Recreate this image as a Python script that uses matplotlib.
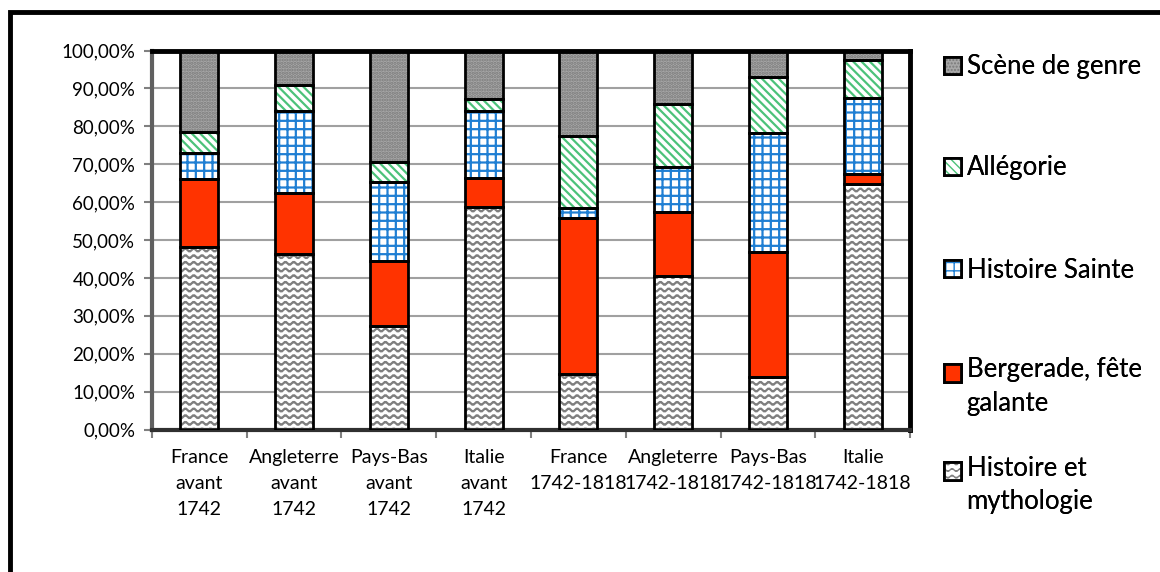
import warnings
import numpy as np
import matplotlib
matplotlib.use('Agg')
import matplotlib.pyplot as plt
import matplotlib.hatch as mhatch
from matplotlib.path import Path
from matplotlib.patches import Rectangle
from matplotlib.legend_handler import HandlerTuple
from matplotlib.ticker import FuncFormatter, MultipleLocator

warnings.filterwarnings('ignore')

# ------------------------------------------
# Data (shares in %)
# ------------------------------------------
categories = ['France\navant\n1742', 'Angleterre\navant\n1742', 'Pays-Bas\navant\n1742',
              'Italie\navant\n1742', 'France\n1742-1818', 'Angleterre\n1742-1818',
              'Pays-Bas\n1742-1818', 'Italie\n1742-1818']
histoire_mythologie = [48.1, 46.4, 27.3, 58.6, 14.6, 40.4, 13.8, 64.8]
bergerade = [17.9, 15.9, 17.2, 7.9, 41.3, 17.1, 33.0, 2.6]
histoire_sainte = [7.1, 21.7, 20.8, 17.5, 2.5, 11.7, 31.4, 20.0]
allegorie = [5.3, 6.9, 5.2, 3.1, 19.1, 16.8, 14.8, 10.0]
scene_genre = [21.6, 9.1, 29.5, 12.9, 22.5, 14.0, 7.0, 2.6]


# wavy hatch (Excel "wave" pattern), triggered by 'z'
class WaveHatch(mhatch.HatchPatternBase):
    def __init__(self, hatch, density):
        self.num_lines = int(hatch.count('z') * density * 1.25)
        self.n_waves = 12
        self.per_wave = 6
        self.num_vertices = self.num_lines * (self.n_waves * self.per_wave + 1)

    def set_vertices_and_codes(self, vertices, codes):
        npts = self.n_waves * self.per_wave + 1
        xs = np.linspace(0, 1, npts)
        amp = 0.22 / max(self.num_lines, 1)
        offs = amp * np.sin(2 * np.pi * self.n_waves * xs)
        for i in range(self.num_lines):
            y0 = (i + 0.5) / self.num_lines
            sl = slice(i * npts, (i + 1) * npts)
            vertices[sl, 0] = xs
            vertices[sl, 1] = y0 + offs
            codes[sl] = Path.LINETO
            codes[i * npts] = Path.MOVETO


mhatch._hatch_types.append(WaveHatch)


# legend handler: overlay hatch + border, optionally lifted to the first text line
class ShiftedTuple(HandlerTuple):
    def __init__(self, shift=0, **kw):
        super().__init__(ndivide=1, pad=0, **kw)
        self.shift = shift

    def create_artists(self, legend, orig_handle, xdescent, ydescent,
                       width, height, fontsize, trans):
        return super().create_artists(legend, orig_handle, xdescent,
                                      ydescent - self.shift, width, height,
                                      fontsize, trans)


plt.rcParams['font.family'] = ['Lato', 'DejaVu Sans']

series = [
    ('Histoire et\nmythologie', histoire_mythologie, 'white', 'zz', '#7f7f7f'),
    ('Bergerade, fête\ngalante', bergerade, '#ff3300', None, '#ff3300'),
    ('Histoire Sainte', histoire_sainte, 'white', '++', '#1f7fd3'),
    ('Allégorie', allegorie, 'white', '\\\\\\\\', '#4cc27a'),
    ('Scène de genre', scene_genre, '#a8a8a8', '.....', '#7a7a7a'),
]

fig = plt.figure(figsize=(11.6, 5.72), dpi=100)
ax = fig.add_axes([0.131, 0.249, 0.6535, 0.6626])

x = np.arange(len(categories))
bottom = np.zeros(len(categories))
handles = []
for label, vals, fc, hatch, hc in series:
    vals = np.array(vals)
    b = ax.bar(x, vals, 0.4, bottom=bottom, color=fc, edgecolor=hc,
               hatch=hatch, linewidth=0, zorder=2)
    for p in b:
        if hasattr(p, 'set_hatch_linewidth'):
            p.set_hatch_linewidth(1.6)
    e = ax.bar(x, vals, 0.4, bottom=bottom, fill=False, edgecolor='black',
               linewidth=2, zorder=3)
    handles.append((b, e))
    bottom += vals

ax.set_xlim(-0.5, len(categories) - 0.5)
ax.set_ylim(0, 100)
ax.yaxis.set_major_locator(MultipleLocator(10))
ax.yaxis.set_major_formatter(FuncFormatter(lambda v, p: f'{v:.2f}'.replace('.', ',') + '%'))
ax.set_xticks(x)
ax.set_xticklabels(categories, linespacing=1.65, fontsize=14)
ax.set_xticks(np.arange(len(categories) + 1) - 0.5, minor=True)
ax.tick_params(axis='x', which='major', length=0, pad=14)
ax.tick_params(axis='x', which='minor', length=6, width=1.5, color='#808080')
ax.tick_params(axis='y', length=6, width=1.5, color='#808080', labelsize=13.5, pad=6)

ax.grid(axis='y', color='#a0a0a0', linewidth=1.5, zorder=0)
ax.set_axisbelow(True)
for side in ['top', 'right']:
    ax.spines[side].set_linewidth(3.5)
    ax.spines[side].set_color('black')
ax.spines['left'].set_linewidth(3)
ax.spines['left'].set_color('#606060')
ax.spines['bottom'].set_linewidth(3)
ax.spines['bottom'].set_color('#303030')

# legend on the right, one entry per block (Excel spacing)
legend_centers = [485, 387, 270, 168, 67]   # px from top, same order as series
for (label, *_), h, yc in zip(series, handles, legend_centers):
    two_lines = '\n' in label
    leg = fig.legend([h], [label], loc='center left',
                     bbox_to_anchor=(944 / 1160, 1 - yc / 572), frameon=False,
                     fontsize=18.5, handlelength=0.68, handleheight=0.68,
                     handletextpad=0.2, borderpad=0, borderaxespad=0,
                     handler_map={tuple: ShiftedTuple(shift=11 if two_lines else 0)})
    for t in leg.get_texts():
        t.set_linespacing(1.45)
    fig.add_artist(leg)

# chart frame (only top and left visible)
fig.patches.append(Rectangle((10 / 1160, -0.2), 1.5, 1.2 - 12 / 572,
                             transform=fig.transFigure, fill=False,
                             edgecolor='black', linewidth=3.5))

fig.savefig('out.png', dpi=100)
